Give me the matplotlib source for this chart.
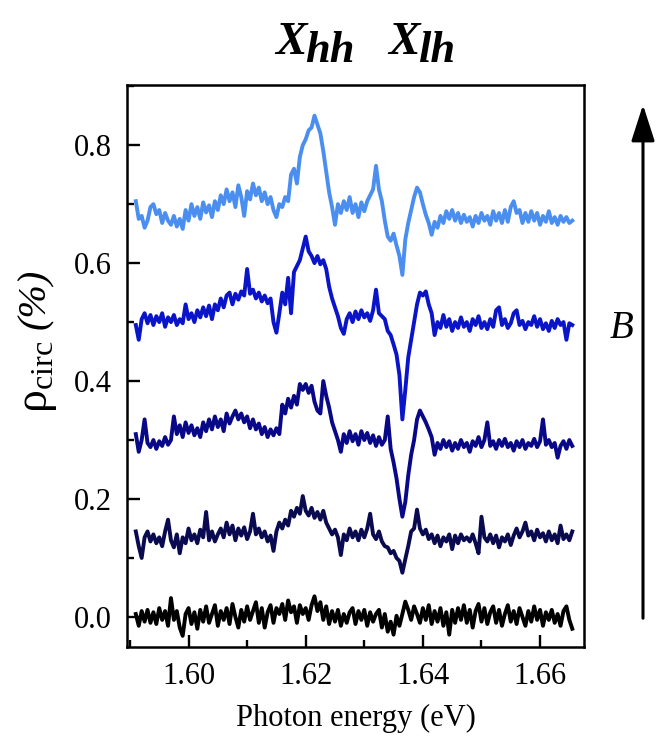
import numpy as np
import matplotlib
matplotlib.use("Agg")
import matplotlib.pyplot as plt
from matplotlib.ticker import MultipleLocator

plt.rcParams['font.family'] = ['Liberation Serif', 'DejaVu Serif']
plt.rcParams['mathtext.fontset'] = 'custom'
plt.rcParams['mathtext.rm'] = 'Liberation Serif'
plt.rcParams['mathtext.it'] = 'Liberation Serif:italic'
plt.rcParams['mathtext.bf'] = 'Liberation Serif:bold'

# Photon energy grid (eV)
energy_start = 1.591
energy_step = 0.0005
n_points = 150

curve_a = [  # top, light blue
    0.705, 0.675, 0.680, 0.660, 0.672, 0.695, 0.700, 0.683, 0.690, 0.668,
    0.685, 0.672, 0.665, 0.680, 0.662, 0.675, 0.658, 0.690, 0.672, 0.700,
    0.680, 0.695, 0.675, 0.703, 0.686, 0.698, 0.678, 0.705, 0.690, 0.715,
    0.700, 0.725, 0.705, 0.720, 0.695, 0.732, 0.712, 0.680, 0.722, 0.708,
    0.735, 0.715, 0.728, 0.705, 0.720, 0.700, 0.712, 0.690, 0.678, 0.700,
    0.695, 0.712, 0.705, 0.750, 0.760, 0.735, 0.780, 0.800, 0.810, 0.825,
    0.830, 0.850, 0.835, 0.820, 0.790, 0.755, 0.720, 0.695, 0.665, 0.700,
    0.685, 0.705, 0.690, 0.712, 0.685, 0.700, 0.678, 0.703, 0.688, 0.705,
    0.715, 0.725, 0.765, 0.725, 0.705, 0.672, 0.645, 0.638, 0.650, 0.630,
    0.612, 0.580, 0.640, 0.668, 0.690, 0.712, 0.728, 0.720, 0.700, 0.682,
    0.668, 0.648, 0.670, 0.660, 0.680, 0.668, 0.688, 0.675, 0.690, 0.672,
    0.685, 0.668, 0.682, 0.670, 0.678, 0.662, 0.680, 0.668, 0.685, 0.672,
    0.680, 0.665, 0.688, 0.672, 0.685, 0.668, 0.690, 0.670, 0.695, 0.705,
    0.685, 0.690, 0.668, 0.685, 0.670, 0.688, 0.672, 0.685, 0.665, 0.680,
    0.670, 0.688, 0.668, 0.678, 0.665, 0.680, 0.670, 0.678, 0.668, 0.672,
]

curve_b = [  # blue
    0.495, 0.470, 0.505, 0.515, 0.498, 0.512, 0.495, 0.510, 0.500, 0.515,
    0.492, 0.508, 0.500, 0.512, 0.495, 0.505, 0.498, 0.530, 0.505, 0.515,
    0.500, 0.520, 0.508, 0.525, 0.510, 0.528, 0.505, 0.530, 0.520, 0.540,
    0.525, 0.545, 0.550, 0.530, 0.548, 0.538, 0.552, 0.545, 0.590, 0.548,
    0.555, 0.540, 0.550, 0.535, 0.545, 0.532, 0.540, 0.500, 0.482, 0.515,
    0.550, 0.530, 0.575, 0.515, 0.585, 0.595, 0.605, 0.625, 0.645, 0.620,
    0.612, 0.600, 0.612, 0.598, 0.605, 0.590, 0.560, 0.540, 0.525, 0.510,
    0.490, 0.480, 0.505, 0.515, 0.500, 0.518, 0.505, 0.520, 0.508, 0.515,
    0.502, 0.520, 0.555, 0.515, 0.510, 0.505, 0.485, 0.478, 0.462, 0.445,
    0.410, 0.335, 0.385, 0.440, 0.470, 0.500, 0.530, 0.550, 0.545, 0.552,
    0.530, 0.515, 0.478, 0.500, 0.490, 0.512, 0.492, 0.505, 0.485, 0.500,
    0.490, 0.508, 0.492, 0.500, 0.485, 0.505, 0.495, 0.510, 0.490, 0.500,
    0.488, 0.505, 0.492, 0.520, 0.525, 0.495, 0.505, 0.490, 0.498, 0.515,
    0.520, 0.495, 0.502, 0.488, 0.500, 0.495, 0.510, 0.492, 0.505, 0.488,
    0.498, 0.485, 0.502, 0.490, 0.505, 0.495, 0.500, 0.470, 0.498, 0.495,
]

curve_c = [  # navy
    0.310, 0.280, 0.300, 0.335, 0.295, 0.288, 0.300, 0.285, 0.298, 0.290,
    0.305, 0.292, 0.300, 0.340, 0.310, 0.325, 0.305, 0.330, 0.312, 0.325,
    0.308, 0.320, 0.305, 0.330, 0.315, 0.335, 0.318, 0.340, 0.322, 0.335,
    0.315, 0.345, 0.328, 0.340, 0.350, 0.335, 0.345, 0.330, 0.340, 0.320,
    0.335, 0.318, 0.328, 0.310, 0.322, 0.305, 0.318, 0.308, 0.320, 0.310,
    0.360, 0.345, 0.370, 0.355, 0.375, 0.360, 0.395, 0.385, 0.395, 0.380,
    0.392, 0.365, 0.350, 0.345, 0.400, 0.375, 0.355, 0.330, 0.315, 0.300,
    0.280, 0.310, 0.295, 0.315, 0.298, 0.310, 0.292, 0.315, 0.300, 0.312,
    0.295, 0.308, 0.290, 0.305, 0.292, 0.300, 0.340, 0.285, 0.262, 0.235,
    0.200, 0.170, 0.195, 0.240, 0.275, 0.300, 0.335, 0.350, 0.340, 0.330,
    0.318, 0.305, 0.275, 0.295, 0.285, 0.300, 0.288, 0.298, 0.282, 0.295,
    0.285, 0.300, 0.288, 0.295, 0.280, 0.298, 0.290, 0.305, 0.288, 0.300,
    0.330, 0.290, 0.298, 0.285, 0.300, 0.290, 0.302, 0.288, 0.295, 0.282,
    0.298, 0.288, 0.300, 0.285, 0.295, 0.290, 0.302, 0.288, 0.298, 0.335,
    0.292, 0.300, 0.288, 0.295, 0.270, 0.290, 0.298, 0.285, 0.300, 0.290,
]

curve_d = [  # dark navy
    0.145, 0.120, 0.100, 0.135, 0.145, 0.128, 0.140, 0.125, 0.135, 0.120,
    0.145, 0.165, 0.130, 0.118, 0.140, 0.108, 0.135, 0.125, 0.150, 0.130,
    0.140, 0.125, 0.148, 0.135, 0.178, 0.130, 0.145, 0.128, 0.140, 0.150,
    0.135, 0.160, 0.140, 0.155, 0.130, 0.150, 0.138, 0.152, 0.132, 0.145,
    0.175, 0.140, 0.150, 0.135, 0.145, 0.128, 0.138, 0.112, 0.145, 0.160,
    0.150, 0.165, 0.155, 0.180, 0.170, 0.185, 0.175, 0.205, 0.180, 0.172,
    0.185, 0.168, 0.178, 0.165, 0.180, 0.160, 0.150, 0.140, 0.148, 0.135,
    0.105, 0.140, 0.130, 0.150, 0.135, 0.145, 0.130, 0.148, 0.135, 0.150,
    0.175, 0.140, 0.132, 0.145, 0.128, 0.120, 0.118, 0.108, 0.112, 0.100,
    0.095, 0.075, 0.098, 0.120, 0.145, 0.150, 0.182, 0.150, 0.140, 0.148,
    0.132, 0.140, 0.125, 0.138, 0.120, 0.135, 0.128, 0.140, 0.115, 0.138,
    0.125, 0.140, 0.130, 0.135, 0.128, 0.140, 0.125, 0.108, 0.170, 0.135,
    0.128, 0.140, 0.125, 0.138, 0.118, 0.135, 0.128, 0.140, 0.122, 0.138,
    0.150, 0.135, 0.145, 0.160, 0.138, 0.145, 0.130, 0.148, 0.135, 0.142,
    0.128, 0.145, 0.130, 0.140, 0.125, 0.155, 0.132, 0.140, 0.130, 0.145,
]

curve_e = [  # black, zero field
    0.005, -0.015, 0.010, -0.008, 0.012, -0.010, 0.008, -0.012, 0.015, -0.005,
    0.010, -0.015, 0.032, -0.005, 0.010, -0.018, -0.032, 0.005, 0.015, -0.012,
    0.008, -0.020, 0.012, -0.008, 0.018, -0.010, 0.005, 0.020, -0.015, 0.010,
    -0.005, 0.015, -0.012, 0.022, 0.000, -0.018, 0.012, -0.008, 0.018, -0.005,
    0.010, 0.025, -0.010, 0.015, -0.018, 0.008, 0.020, -0.010, 0.015, 0.005,
    0.022, -0.005, 0.028, 0.008, 0.018, -0.010, 0.020, 0.005, 0.015, -0.005,
    0.020, 0.035, 0.010, 0.025, -0.005, 0.018, -0.012, 0.010, -0.008, 0.012,
    -0.015, 0.005, -0.010, 0.008, 0.015, -0.012, 0.010, -0.005, 0.012, -0.015,
    0.008, -0.008, 0.005, 0.012, -0.018, 0.005, -0.025, -0.008, -0.030, 0.002,
    -0.015, 0.005, 0.026, 0.012, -0.005, 0.018, 0.005, -0.010, 0.015, -0.005,
    0.020, -0.012, 0.010, -0.008, 0.015, -0.015, 0.008, -0.030, 0.012, -0.010,
    0.015, -0.005, 0.020, -0.010, 0.012, -0.018, 0.010, 0.022, -0.008, 0.015,
    -0.012, 0.008, 0.018, -0.010, 0.012, -0.015, 0.005, 0.020, -0.008, 0.010,
    -0.012, 0.015, 0.000, -0.015, 0.010, -0.008, 0.018, -0.005, 0.012, -0.015,
    0.008, -0.005, 0.012, -0.010, 0.005, -0.015, 0.010, 0.018, -0.005, -0.020,
]

series = [curve_e, curve_d, curve_c, curve_b, curve_a]
colors = ['#000000', '#0a0a50', '#080888', '#0a14c8', '#4a8ef0']

xticks = [1.60, 1.62, 1.64, 1.66]
xtick_labels = ['1.60', '1.62', '1.64', '1.66']
yticks = [0.0, 0.2, 0.4, 0.6, 0.8]
ytick_labels = ['0.0', '0.2', '0.4', '0.6', '0.8']

energy = energy_start + energy_step * np.arange(n_points)

fig = plt.figure(figsize=(6.64, 7.45), dpi=100)
ax = fig.add_axes([0.1913, 0.1315, 0.6882, 0.7544])

for vals, c in zip(series, colors):
    ax.plot(energy, vals, color=c, lw=2.8, solid_joinstyle='round')

ax.set_xlim(1.5895, 1.6675)
ax.set_ylim(-0.051, 0.902)
ax.set_xticks(xticks)
ax.set_xticklabels(xtick_labels)
ax.set_yticks(yticks)
ax.set_yticklabels(ytick_labels)
ax.xaxis.set_minor_locator(MultipleLocator(0.01))
ax.yaxis.set_minor_locator(MultipleLocator(0.1))
ax.tick_params(which='both', direction='in', top=False, right=False,
               labelsize=22, width=1.7)
ax.tick_params(which='major', length=9, pad=11)
ax.tick_params(which='minor', length=5)
for s in ax.spines.values():
    s.set_linewidth(1.8)

ax.set_xlabel('Photon energy (eV)', fontsize=22, labelpad=9)

# y-axis label built from pieces (rotated)
fig.text(47 / 664, 1 - 413 / 745, r'$\mathrm{\rho}_{\mathrm{circ}}$', fontsize=33,
         rotation=90, rotation_mode='anchor', ha='left', va='baseline')
fig.text(45 / 664, 1 - 329 / 745, '(%)', fontsize=29, fontstyle='italic',
         rotation=90, rotation_mode='anchor', ha='left', va='baseline')

# exciton labels
fig.text(275 / 664, 1 - 54 / 745, 'X', fontsize=34, fontweight='bold', fontstyle='italic')
fig.text(305 / 664, 1 - 62 / 745, 'hh', fontsize=32, fontweight='bold', fontstyle='italic')
fig.text(388 / 664, 1 - 54 / 745, 'X', fontsize=34, fontweight='bold', fontstyle='italic')
fig.text(418 / 664, 1 - 62 / 745, 'lh', fontsize=32, fontweight='bold', fontstyle='italic')

# magnetic field arrow
fig.add_artist(matplotlib.patches.FancyArrowPatch(
    (643 / 664, 1 - 621 / 745), (643 / 664, 1 - 102 / 745),
    transform=fig.transFigure, arrowstyle='-|>,head_length=1.4,head_width=0.45',
    mutation_scale=16, lw=2.2, color='black'))
fig.text(622 / 664, 1 - 328 / 745, 'B', fontsize=28, fontstyle='italic',
         ha='center', va='center')

fig.savefig('out.png', dpi=100)
